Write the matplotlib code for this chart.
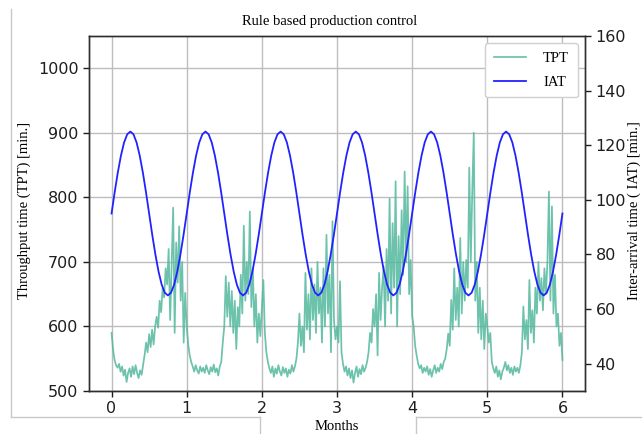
import numpy as np
import matplotlib.pyplot as plt
from matplotlib.lines import Line2D

# throughput time per job, sampled every 0.02 month, one list per month
tpt_m0 = [590, 565, 548, 540, 536, 542, 530, 538, 524, 533,
          514, 528, 535, 522, 538, 526, 540, 528, 520, 532,
          525, 540, 556, 575, 560, 588, 568, 595, 572, 600,
          615, 598, 640, 622, 660, 645, 690, 665, 720, 610,
          700, 784, 590, 730, 668, 755, 640, 700, 575, 652]
tpt_m1 = [600, 572, 555, 545, 538, 530, 540, 532, 527, 538,
          530, 536, 528, 540, 532, 526, 537, 530, 541, 529,
          535, 524, 538, 545, 575, 600, 678, 615, 668, 600,
          655, 590, 640, 565, 630, 600, 680, 620, 756, 640,
          700, 650, 778, 630, 690, 600, 650, 575, 620, 585]
tpt_m2 = [630, 672, 590, 560, 545, 535, 528, 538, 522, 535,
          527, 540, 530, 524, 537, 528, 535, 522, 533, 527,
          540, 530, 538, 550, 575, 620, 570, 600, 560, 683,
          595, 650, 580, 690, 610, 665, 590, 700, 620, 660,
          575, 690, 600, 742, 620, 680, 560, 763, 610, 580]
tpt_m3 = [600, 575, 670, 560, 542, 530, 538, 524, 535, 520,
          532, 513, 528, 538, 522, 534, 526, 540, 530, 536,
          545, 560, 590, 575, 627, 600, 650, 555, 683, 610,
          660, 693, 600, 720, 640, 798, 620, 760, 660, 825,
          600, 740, 650, 780, 680, 840, 700, 817, 650, 703]
tpt_m4 = [616, 600, 570, 555, 542, 535, 540, 528, 536, 530,
          538, 525, 534, 522, 532, 540, 528, 536, 530, 542,
          534, 545, 550, 565, 589, 570, 641, 595, 690, 610,
          660, 600, 737, 620, 700, 640, 703, 660, 846, 700,
          810, 900, 640, 700, 590, 660, 580, 640, 565, 620]
tpt_m5 = [600, 575, 590, 545, 535, 528, 538, 522, 532, 518,
          530, 536, 545, 532, 540, 528, 536, 525, 538, 530,
          536, 528, 540, 560, 631, 580, 610, 565, 672, 590,
          625, 575, 660, 620, 700, 640, 675, 625, 690, 650,
          700, 809, 640, 786, 620, 680, 600, 620, 570, 590]
tpt_end = [548]

# inter-arrival time, sampled every 1/24 month
iat = [95, 102.8, 110, 116.2, 121, 124, 125, 124, 121, 116.2, 110, 102.8,
       95, 87.2, 80, 73.8, 69, 66, 65, 66, 69, 73.8, 80, 87.2,
       95, 102.8, 110, 116.2, 121, 124, 125, 124, 121, 116.2, 110, 102.8,
       95, 87.2, 80, 73.8, 69, 66, 65, 66, 69, 73.8, 80, 87.2,
       95, 102.8, 110, 116.2, 121, 124, 125, 124, 121, 116.2, 110, 102.8,
       95, 87.2, 80, 73.8, 69, 66, 65, 66, 69, 73.8, 80, 87.2,
       95, 102.8, 110, 116.2, 121, 124, 125, 124, 121, 116.2, 110, 102.8,
       95, 87.2, 80, 73.8, 69, 66, 65, 66, 69, 73.8, 80, 87.2,
       95, 102.8, 110, 116.2, 121, 124, 125, 124, 121, 116.2, 110, 102.8,
       95, 87.2, 80, 73.8, 69, 66, 65, 66, 69, 73.8, 80, 87.2,
       95, 102.8, 110, 116.2, 121, 124, 125, 124, 121, 116.2, 110, 102.8,
       95, 87.2, 80, 73.8, 69, 66, 65, 66, 69, 73.8, 80, 87.2,
       95]

n_months = 6
tpt = tpt_m0 + tpt_m1 + tpt_m2 + tpt_m3 + tpt_m4 + tpt_m5 + tpt_end
t_tpt = np.linspace(0, n_months, len(tpt))
t_iat = np.linspace(0, n_months, len(iat))

serif = "Liberation Serif"
tick_color = "#1e1e1e"

fig = plt.figure(figsize=(6.42, 4.34), dpi=100)
ax = fig.add_axes([89 / 642, 1 - 391 / 434, (585 - 89) / 642, (391 - 36) / 434])
ax2 = ax.twinx()

l1, = ax.plot(t_tpt, tpt, color="#52b89d", lw=1.25, alpha=0.85, label="TPT")
l2, = ax2.plot(t_iat, iat, color="#2222ff", lw=1.3, label="IAT")

ax.set_xlim(-0.3, 6.3)
ax.set_ylim(500, 1050)
ax2.set_ylim(30, 160)
ax.set_xticks(range(0, 7))
ax.set_yticks(range(500, 1001, 100))
ax2.set_yticks(range(40, 161, 20))

ax.grid(True, color="#bdbdbd", lw=1.0)
ax.set_axisbelow(True)

for a in (ax, ax2):
    a.tick_params(labelsize=11.5, colors=tick_color, length=4, width=1)
    for s in a.spines.values():
        s.set_color("#2e2e2e")
        s.set_linewidth(1.0)

ax2.legend([l1, l2], ["TPT", "IAT"], loc="upper right",
           prop={"family": serif, "size": 10.5}, handlelength=2.2,
           borderpad=0.6, labelspacing=0.7, handletextpad=1.2,
           edgecolor="#d0d0d0", framealpha=1.0)

fig.text(330 / 642, 1 - 21 / 434, "Rule based production control",
         family=serif, fontsize=10.5, ha="center", va="center")
fig.text(24 / 642, 1 - 210 / 434, "Throughput time (TPT) [min.]",
         family=serif, fontsize=10.5, rotation=90, ha="center", va="center")
fig.text(641 / 642, 1 - 211 / 434, "Inter-arrival time ( IAT) [min.]",
         family=serif, fontsize=10.5, rotation=90, ha="right", va="center")
fig.text(337 / 642, 1 / 434, "Months",
         family=serif, fontsize=10.5, ha="center", va="bottom")

# light frame lines around the plot area
frame = "#c8c8c8"
for xs, ys in [((11.5, 11.5), (9, 417)), ((11.5, 260), (417, 417)),
               ((260, 260), (417, 434)), ((416, 642), (417, 417)),
               ((416, 416), (417, 434))]:
    fig.add_artist(Line2D([x / 642 for x in xs], [1 - y / 434 for y in ys],
                          color=frame, lw=1.0))

fig.savefig("out.png", dpi=100)
